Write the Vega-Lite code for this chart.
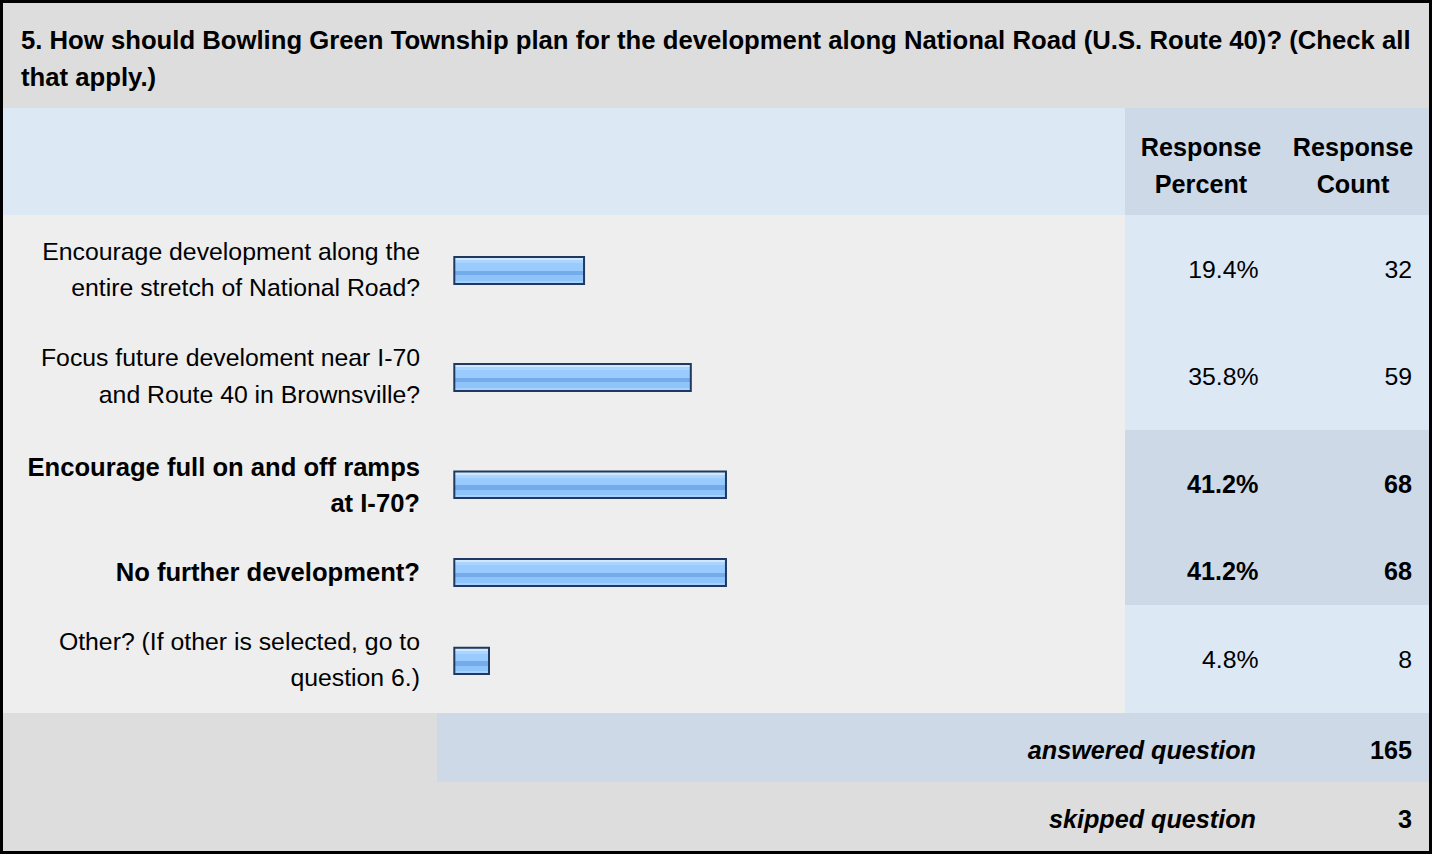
{
  "$schema": "https://vega.github.io/schema/vega-lite/v6.json",
  "background": "#000000",
  "padding": 3,
  "spacing": 0,
  "config": {
    "view": {"stroke": null},
    "concat": {"spacing": 0},
    "text": {"font": "Liberation Sans", "fontSize": 24.8, "color": "#000000"},
    "rect": {"stroke": "#1e3a62", "strokeWidth": 2,
      "fill": {"gradient": "linear", "x1": 0, "y1": 0, "x2": 0, "y2": 1, "stops": [
        {"offset": 0, "color": "#cfe7ff"}, {"offset": 0.12, "color": "#cfe7ff"},
        {"offset": 0.12, "color": "#abd4ff"}, {"offset": 0.24, "color": "#abd4ff"},
        {"offset": 0.24, "color": "#9acbfe"}, {"offset": 0.52, "color": "#9acbfe"},
        {"offset": 0.52, "color": "#74abeb"}, {"offset": 0.68, "color": "#74abeb"},
        {"offset": 0.68, "color": "#8fc4fb"}, {"offset": 0.88, "color": "#8fc4fb"},
        {"offset": 0.88, "color": "#a6d1ff"}, {"offset": 1, "color": "#a6d1ff"}]}}
  },
  "datasets": {
    "answers": [
      {"row": 1, "answer": "Encourage development along the\nentire stretch of National Road?", "percent": 0.194, "count": 32},
      {"row": 2, "answer": "Focus future develoment near I-70\nand Route 40 in Brownsville?", "percent": 0.358, "count": 59},
      {"row": 3, "answer": "Encourage full on and off ramps\nat I-70?", "percent": 0.412, "count": 68},
      {"row": 4, "answer": "No further development?", "percent": 0.412, "count": 68},
      {"row": 5, "answer": "Other? (If other is selected, go to\nquestion 6.)", "percent": 0.048, "count": 8}
    ],
    "summary": [
      {"item": "answered question", "n": 165},
      {"item": "skipped question", "n": 3}
    ]
  },
  "vconcat": [
    {
      "width": 1426, "height": 105,
      "view": {"fill": "#dddddd", "stroke": null},
      "data": {"values": [{"q": "5. How should Bowling Green Township plan for the development along National Road (U.S. Route 40)? (Check all\nthat apply.)"}]},
      "mark": {"type": "text", "align": "left", "baseline": "alphabetic", "fontWeight": "bold", "fontSize": 25.7, "lineBreak": "\n", "lineHeight": 37},
      "encoding": {"text": {"field": "q", "type": "nominal"}, "x": {"value": 18}, "y": {"value": 46}}
    },
    {
      "spacing": 0,
      "hconcat": [
        {
          "width": 1122, "height": 107,
          "view": {"fill": "#dde8f5", "stroke": null},
          "data": {"values": [{"t": ""}]},
          "mark": {"type": "text"},
          "encoding": {"text": {"field": "t", "type": "nominal"}}
        },
        {
          "width": 304, "height": 107,
          "view": {"fill": "#cdd9e6", "stroke": null},
          "data": {"values": [{"h": "Response\nPercent"}, {"h": "Response\nCount"}]},
          "layer": [
            {
              "transform": [{"filter": "datum.h == 'Response\\nPercent'"}],
              "mark": {"type": "text", "align": "center", "baseline": "alphabetic", "fontWeight": "bold", "fontSize": 25.2, "lineBreak": "\n", "lineHeight": 37},
              "encoding": {"text": {"field": "h", "type": "nominal"}, "x": {"value": 76}, "y": {"value": 48}}
            },
            {
              "transform": [{"filter": "datum.h == 'Response\\nCount'"}],
              "mark": {"type": "text", "align": "center", "baseline": "alphabetic", "fontWeight": "bold", "fontSize": 25.2, "lineBreak": "\n", "lineHeight": 37},
              "encoding": {"text": {"field": "h", "type": "nominal"}, "x": {"value": 228}, "y": {"value": 48}}
            }
          ]
        }
      ]
    },
    {
      "spacing": 0,
      "hconcat": [
        {
          "width": 1122, "height": 107,
          "view": {"fill": "#eeeeee", "stroke": null},
          "data": {"name": "answers"},
          "transform": [{"filter": "datum.row == 1"}],
          "layer": [
            {
              "mark": {"type": "text", "align": "right", "baseline": "alphabetic", "lineBreak": "\n", "lineHeight": 36.7},
              "encoding": {"text": {"field": "answer", "type": "nominal"}, "x": {"value": 417}, "y": {"value": 44.5}}
            },
            {
              "mark": {"type": "rect", "x2Offset": -3.45},
              "encoding": {
                "x": {"field": "percent", "type": "quantitative", "scale": {"domain": [-0.69854, 1.02496], "nice": false, "zero": false}, "axis": null},
                "x2": {"datum": 0},
                "y": {"value": 42}, "y2": {"value": 69}
              }
            }
          ]
        },
        {
          "width": 304, "height": 107,
          "view": {"fill": "#dde8f5", "stroke": null},
          "data": {"name": "answers"},
          "transform": [{"filter": "datum.row == 1"}],
          "layer": [
            {
              "mark": {"type": "text", "align": "right", "baseline": "alphabetic"},
              "encoding": {"text": {"field": "percent", "type": "quantitative", "format": ".1%"}, "x": {"value": 133.5}, "y": {"value": 63}}
            },
            {
              "mark": {"type": "text", "align": "right", "baseline": "alphabetic"},
              "encoding": {"text": {"field": "count", "type": "quantitative"}, "x": {"value": 287}, "y": {"value": 63}}
            }
          ]
        }
      ]
    },
    {
      "spacing": 0,
      "hconcat": [
        {
          "width": 1122, "height": 108,
          "view": {"fill": "#eeeeee", "stroke": null},
          "data": {"name": "answers"},
          "transform": [{"filter": "datum.row == 2"}],
          "layer": [
            {
              "mark": {"type": "text", "align": "right", "baseline": "alphabetic", "lineBreak": "\n", "lineHeight": 36.7},
              "encoding": {"text": {"field": "answer", "type": "nominal"}, "x": {"value": 417}, "y": {"value": 44}}
            },
            {
              "mark": {"type": "rect", "x2Offset": -3.45},
              "encoding": {
                "x": {"field": "percent", "type": "quantitative", "scale": {"domain": [-0.69854, 1.02496], "nice": false, "zero": false}, "axis": null},
                "x2": {"datum": 0},
                "y": {"value": 42}, "y2": {"value": 69}
              }
            }
          ]
        },
        {
          "width": 304, "height": 108,
          "view": {"fill": "#dde8f5", "stroke": null},
          "data": {"name": "answers"},
          "transform": [{"filter": "datum.row == 2"}],
          "layer": [
            {
              "mark": {"type": "text", "align": "right", "baseline": "alphabetic"},
              "encoding": {"text": {"field": "percent", "type": "quantitative", "format": ".1%"}, "x": {"value": 133.5}, "y": {"value": 63}}
            },
            {
              "mark": {"type": "text", "align": "right", "baseline": "alphabetic"},
              "encoding": {"text": {"field": "count", "type": "quantitative"}, "x": {"value": 287}, "y": {"value": 63}}
            }
          ]
        }
      ]
    },
    {
      "spacing": 0,
      "hconcat": [
        {
          "width": 1122, "height": 88,
          "view": {"fill": "#eeeeee", "stroke": null},
          "data": {"name": "answers"},
          "transform": [{"filter": "datum.row == 3"}],
          "layer": [
            {
              "mark": {"type": "text", "align": "right", "baseline": "alphabetic", "fontWeight": "bold", "fontSize": 25.6, "lineBreak": "\n", "lineHeight": 36.7},
              "encoding": {"text": {"field": "answer", "type": "nominal"}, "x": {"value": 417}, "y": {"value": 45.5}}
            },
            {
              "mark": {"type": "rect", "x2Offset": -3.45},
              "encoding": {
                "x": {"field": "percent", "type": "quantitative", "scale": {"domain": [-0.69854, 1.02496], "nice": false, "zero": false}, "axis": null},
                "x2": {"datum": 0},
                "y": {"value": 41.5}, "y2": {"value": 68}
              }
            }
          ]
        },
        {
          "width": 304, "height": 88,
          "view": {"fill": "#cdd9e6", "stroke": null},
          "data": {"name": "answers"},
          "transform": [{"filter": "datum.row == 3"}],
          "layer": [
            {
              "mark": {"type": "text", "align": "right", "baseline": "alphabetic", "fontWeight": "bold", "fontSize": 25.2},
              "encoding": {"text": {"field": "percent", "type": "quantitative", "format": ".1%"}, "x": {"value": 133.5}, "y": {"value": 63}}
            },
            {
              "mark": {"type": "text", "align": "right", "baseline": "alphabetic", "fontWeight": "bold", "fontSize": 25.2},
              "encoding": {"text": {"field": "count", "type": "quantitative"}, "x": {"value": 287}, "y": {"value": 63}}
            }
          ]
        }
      ]
    },
    {
      "spacing": 0,
      "hconcat": [
        {
          "width": 1122, "height": 87,
          "view": {"fill": "#eeeeee", "stroke": null},
          "data": {"name": "answers"},
          "transform": [{"filter": "datum.row == 4"}],
          "layer": [
            {
              "mark": {"type": "text", "align": "right", "baseline": "alphabetic", "fontWeight": "bold", "fontSize": 25.6, "lineBreak": "\n", "lineHeight": 36.7},
              "encoding": {"text": {"field": "answer", "type": "nominal"}, "x": {"value": 417}, "y": {"value": 62.7}}
            },
            {
              "mark": {"type": "rect", "x2Offset": -3.45},
              "encoding": {
                "x": {"field": "percent", "type": "quantitative", "scale": {"domain": [-0.69854, 1.02496], "nice": false, "zero": false}, "axis": null},
                "x2": {"datum": 0},
                "y": {"value": 41}, "y2": {"value": 68}
              }
            }
          ]
        },
        {
          "width": 304, "height": 87,
          "view": {"fill": "#cdd9e6", "stroke": null},
          "data": {"name": "answers"},
          "transform": [{"filter": "datum.row == 4"}],
          "layer": [
            {
              "mark": {"type": "text", "align": "right", "baseline": "alphabetic", "fontWeight": "bold", "fontSize": 25.2},
              "encoding": {"text": {"field": "percent", "type": "quantitative", "format": ".1%"}, "x": {"value": 133.5}, "y": {"value": 62}}
            },
            {
              "mark": {"type": "text", "align": "right", "baseline": "alphabetic", "fontWeight": "bold", "fontSize": 25.2},
              "encoding": {"text": {"field": "count", "type": "quantitative"}, "x": {"value": 287}, "y": {"value": 62}}
            }
          ]
        }
      ]
    },
    {
      "spacing": 0,
      "hconcat": [
        {
          "width": 1122, "height": 108,
          "view": {"fill": "#eeeeee", "stroke": null},
          "data": {"name": "answers"},
          "transform": [{"filter": "datum.row == 5"}],
          "layer": [
            {
              "mark": {"type": "text", "align": "right", "baseline": "alphabetic", "lineBreak": "\n", "lineHeight": 36.7},
              "encoding": {"text": {"field": "answer", "type": "nominal"}, "x": {"value": 417}, "y": {"value": 44.5}}
            },
            {
              "mark": {"type": "rect", "x2Offset": -3.45},
              "encoding": {
                "x": {"field": "percent", "type": "quantitative", "scale": {"domain": [-0.69854, 1.02496], "nice": false, "zero": false}, "axis": null},
                "x2": {"datum": 0},
                "y": {"value": 42.7}, "y2": {"value": 69}
              }
            }
          ]
        },
        {
          "width": 304, "height": 108,
          "view": {"fill": "#dde8f5", "stroke": null},
          "data": {"name": "answers"},
          "transform": [{"filter": "datum.row == 5"}],
          "layer": [
            {
              "mark": {"type": "text", "align": "right", "baseline": "alphabetic"},
              "encoding": {"text": {"field": "percent", "type": "quantitative", "format": ".1%"}, "x": {"value": 133.5}, "y": {"value": 63}}
            },
            {
              "mark": {"type": "text", "align": "right", "baseline": "alphabetic"},
              "encoding": {"text": {"field": "count", "type": "quantitative"}, "x": {"value": 287}, "y": {"value": 63}}
            }
          ]
        }
      ]
    },
    {
      "spacing": 0,
      "hconcat": [
        {
          "width": 434, "height": 69,
          "view": {"fill": "#dddddd", "stroke": null},
          "data": {"values": [{"t": ""}]},
          "mark": {"type": "text"},
          "encoding": {"text": {"field": "t", "type": "nominal"}}
        },
        {
          "width": 992, "height": 69,
          "view": {"fill": "#cdd9e6", "stroke": null},
          "data": {"name": "summary"},
          "transform": [{"filter": "datum.item == 'answered question'"}],
          "layer": [
            {
              "mark": {"type": "text", "align": "right", "baseline": "alphabetic", "fontWeight": "bold", "fontStyle": "italic", "fontSize": 25.2},
              "encoding": {"text": {"field": "item", "type": "nominal"}, "x": {"value": 819}, "y": {"value": 45.5}}
            },
            {
              "mark": {"type": "text", "align": "right", "baseline": "alphabetic", "fontWeight": "bold", "fontSize": 25.2},
              "encoding": {"text": {"field": "n", "type": "quantitative"}, "x": {"value": 975}, "y": {"value": 45.5}}
            }
          ]
        }
      ]
    },
    {
      "width": 1426, "height": 69,
      "view": {"fill": "#dddddd", "stroke": null},
      "data": {"name": "summary"},
      "transform": [{"filter": "datum.item == 'skipped question'"}],
      "layer": [
        {
          "mark": {"type": "text", "align": "right", "baseline": "alphabetic", "fontWeight": "bold", "fontStyle": "italic", "fontSize": 25.2},
          "encoding": {"text": {"field": "item", "type": "nominal"}, "x": {"value": 1253}, "y": {"value": 46.3}}
        },
        {
          "mark": {"type": "text", "align": "right", "baseline": "alphabetic", "fontWeight": "bold", "fontSize": 25.2},
          "encoding": {"text": {"field": "n", "type": "quantitative"}, "x": {"value": 1409}, "y": {"value": 46.3}}
        }
      ]
    }
  ]
}
